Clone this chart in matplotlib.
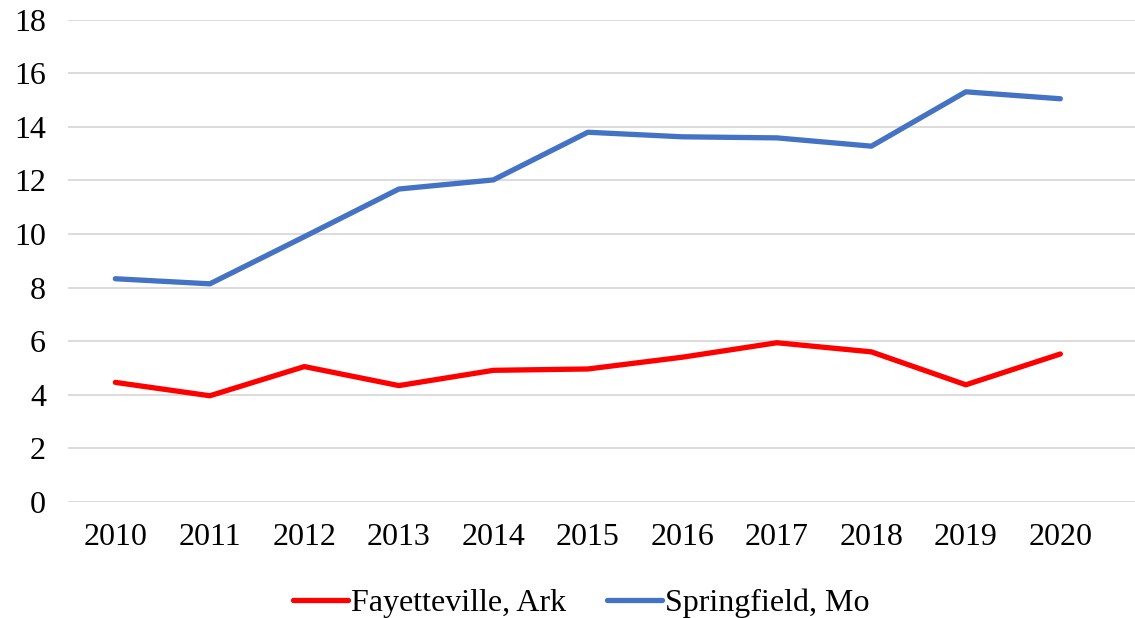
import matplotlib.pyplot as plt

# Data
years = ['2010', '2011', '2012', '2013', '2014', '2015', '2016', '2017', '2018', '2019', '2020']
fayetteville = [4.46, 3.96, 5.05, 4.34, 4.91, 4.96, 5.40, 5.94, 5.60, 4.37, 5.52]
springfield = [8.33, 8.14, 9.90, 11.68, 12.02, 13.80, 13.63, 13.59, 13.28, 15.31, 15.05]
y_ticks = [0, 2, 4, 6, 8, 10, 12, 14, 16, 18]

plt.rcParams['font.family'] = ['Liberation Serif', 'DejaVu Serif']

fig = plt.figure(figsize=(11.35, 6.18), dpi=100)
ax = fig.add_axes([0.06, 0.188, 0.94, 0.78])

x = range(len(years))
ax.plot(x, fayetteville, color='#FF0000', linewidth=3.8, solid_capstyle='round',
        label='Fayetteville, Ark')
ax.plot(x, springfield, color='#4472C4', linewidth=3.8, solid_capstyle='round',
        label='Springfield, Mo')

ax.set_xlim(-0.5, 10.79)
ax.set_ylim(0, 18)
ax.set_xticks(list(x))
ax.set_xticklabels(years)
ax.set_yticks(y_ticks)

ax.grid(axis='y', color='#D9D9D9', linewidth=1.3)
ax.set_axisbelow(True)
for s in ax.spines.values():
    s.set_visible(False)
ax.tick_params(length=0, labelsize=23)
ax.tick_params(axis='x', pad=15)
ax.tick_params(axis='y', pad=16)

ax.legend(loc='center', bbox_to_anchor=(0.481, -0.21), ncol=2, frameon=False,
          fontsize=23, handlelength=1.7, columnspacing=1.3, handletextpad=0.1)

plt.savefig('out.png', dpi=100)
